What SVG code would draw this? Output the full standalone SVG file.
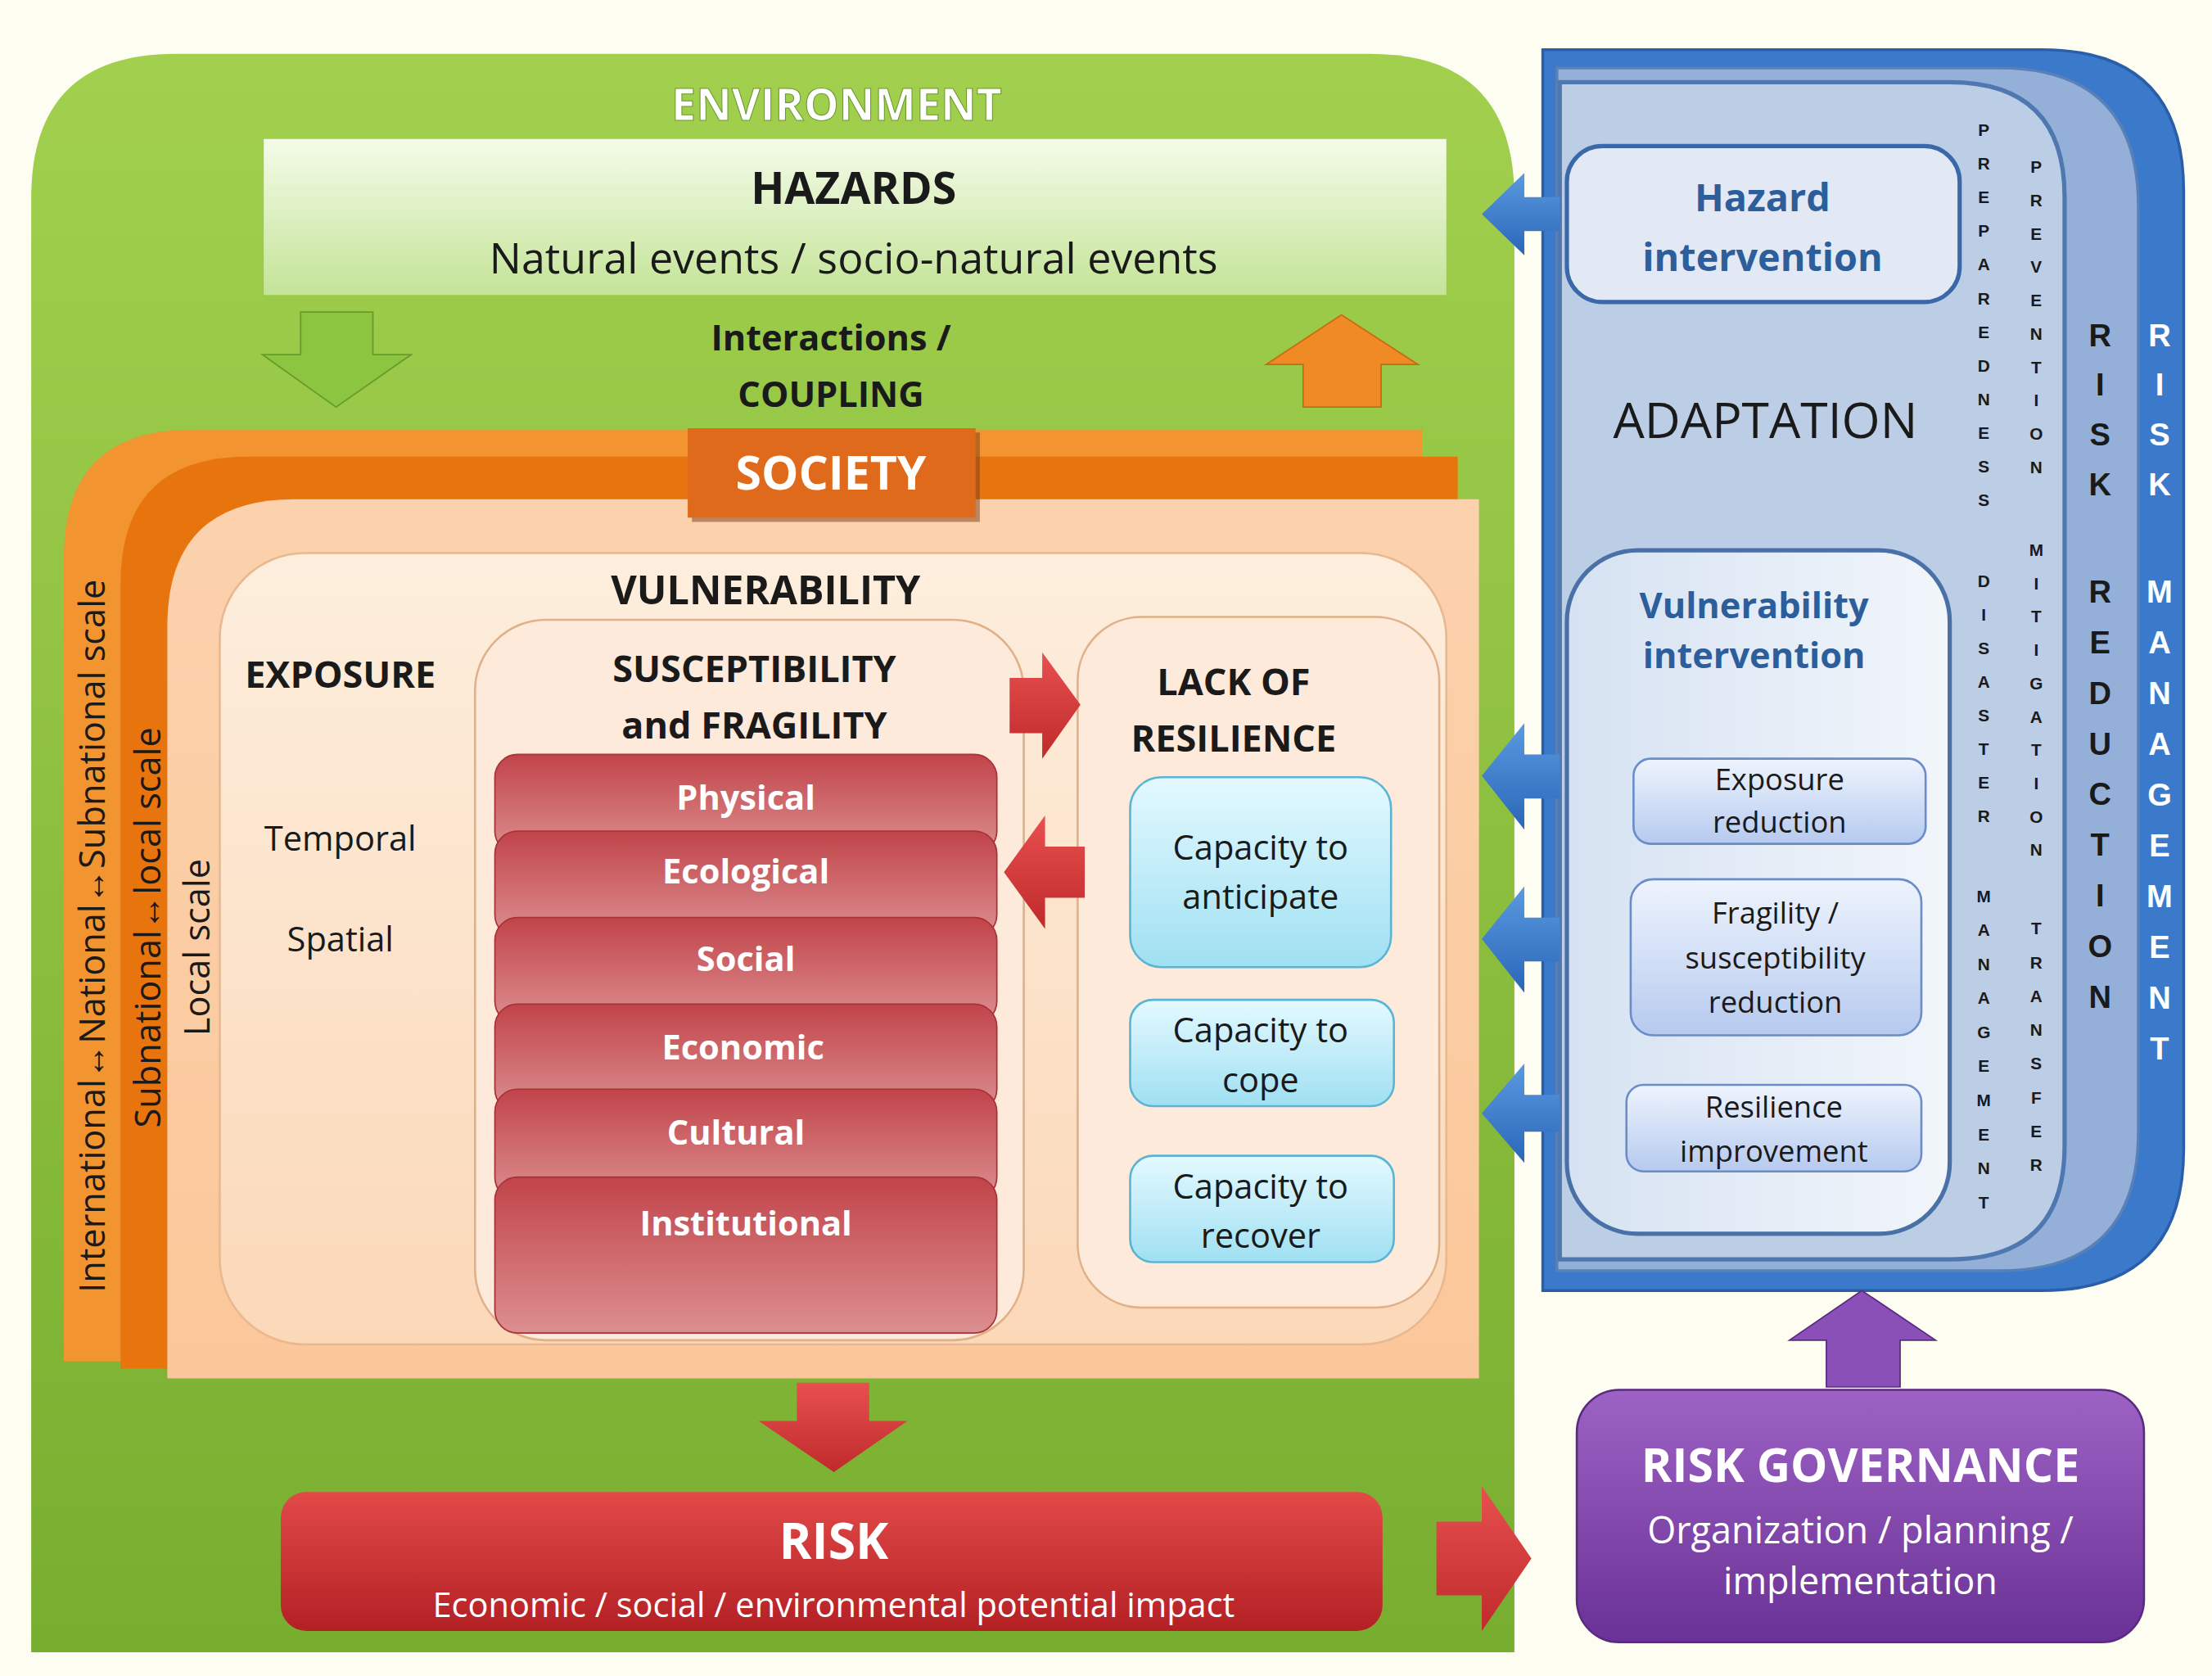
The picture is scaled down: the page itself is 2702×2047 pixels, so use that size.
<svg xmlns="http://www.w3.org/2000/svg" width="2702" height="2047" viewBox="0 0 2702 2047">
<defs>
<linearGradient id="gEnv" x1="0" y1="0" x2="0" y2="1"><stop offset="0" stop-color="#a2d04e"/><stop offset="1" stop-color="#78ae30"/></linearGradient>
<linearGradient id="gHaz" x1="0" y1="0" x2="0" y2="1"><stop offset="0" stop-color="#f4fbe8"/><stop offset="1" stop-color="#c4e498"/></linearGradient>
<linearGradient id="gPeach" x1="0" y1="0" x2="0" y2="1"><stop offset="0" stop-color="#fbd2ad"/><stop offset="1" stop-color="#fbc79a"/></linearGradient>
<linearGradient id="gVul" x1="0" y1="0" x2="0" y2="1"><stop offset="0" stop-color="#fdeedd"/><stop offset="1" stop-color="#fbd8b8"/></linearGradient>
<linearGradient id="gRed" x1="0" y1="0" x2="0" y2="1"><stop offset="0" stop-color="#c1444a"/><stop offset="1" stop-color="#dc8f90"/></linearGradient>
<linearGradient id="gCyan" x1="0" y1="0" x2="0" y2="1"><stop offset="0" stop-color="#e4f9ff"/><stop offset="1" stop-color="#9fe0f2"/></linearGradient>
<linearGradient id="gRisk" x1="0" y1="0" x2="0" y2="1"><stop offset="0" stop-color="#e24a48"/><stop offset="1" stop-color="#b32024"/></linearGradient>
<linearGradient id="gGov" x1="0" y1="0" x2="0" y2="1"><stop offset="0" stop-color="#9d62c4"/><stop offset="1" stop-color="#6a3196"/></linearGradient>
<linearGradient id="gSmall" x1="0" y1="0" x2="0" y2="1"><stop offset="0" stop-color="#eef4fd"/><stop offset="1" stop-color="#b6caef"/></linearGradient>
<linearGradient id="gVI" x1="0" y1="0" x2="1" y2="0"><stop offset="0" stop-color="#d6e2f2"/><stop offset="1" stop-color="#f2f6fb"/></linearGradient>
<linearGradient id="gBlueArr" x1="0" y1="0" x2="0" y2="1"><stop offset="0" stop-color="#5a9ae0"/><stop offset="1" stop-color="#2a66b8"/></linearGradient>
<linearGradient id="gRedArr" x1="0" y1="0" x2="0" y2="1"><stop offset="0" stop-color="#e85050"/><stop offset="1" stop-color="#c02a2a"/></linearGradient>
</defs>
<style>
text{font-family:"Open Sans","Liberation Sans",sans-serif;text-anchor:middle}
.b{font-weight:bold}
.w{fill:#ffffff}
.k{fill:#1a1a1a}
.bl{fill:#2d5e9c;font-weight:bold}
.col{font-family:"Liberation Sans",sans-serif;font-weight:bold;font-size:12px;fill:#1a1a1a}
.band{font-family:"Liberation Sans",sans-serif;font-weight:bold;font-size:22px}
.lbl{fill:#ffffff;font-weight:bold;font-size:24px}
</style>
<rect width="2702" height="2047" fill="#fdfdf2"/>
<g transform="scale(1.7321)">
<g id="environment">
<path d="M22,1165 V140 Q22,38 124,38 H966 Q1068,38 1068,140 V1165 Z" fill="url(#gEnv)"/>
<text x="590" y="85" class="b w" font-size="31" stroke="#6a9a2a" stroke-width="0.6">ENVIRONMENT</text>
</g>
<g id="hazards">
<rect x="186" y="98" width="834" height="110" fill="url(#gHaz)"/>
<text x="602" y="144" class="b k" font-size="31">HAZARDS</text>
<text x="602" y="193" class="k" font-size="30">Natural events / socio-natural events</text>
</g>
<g id="coupling">
<text x="586" y="247" class="b k" font-size="25">Interactions /</text>
<text x="586" y="287" class="b k" font-size="25">COUPLING</text>
</g>
<g id="society">
<path d="M45,960 V393 Q45,303 135,303 H1003 V960 Z" fill="#f29430"/>
<path d="M85,965 V412 Q85,322 175,322 H1028 V965 Z" fill="#e8740e"/>
<path d="M118,972 V442 Q118,352 208,352 H1043 V972 Z" fill="url(#gPeach)"/>
<rect x="488" y="305" width="203" height="63" fill="#7a3a10" opacity="0.5"/>
<rect x="485" y="302" width="203" height="63" fill="#e06a1c"/>
<text x="586" y="345" class="b w" font-size="33">SOCIETY</text>
<text transform="translate(74,660) rotate(-90)" class="k" font-size="25">International↔National↔Subnational scale</text>
<text transform="translate(113,654) rotate(-90)" class="k" font-size="25">Subnational↔local scale</text>
<text transform="translate(148,668) rotate(-90)" class="k" font-size="25">Local scale</text>
</g>
<g id="vulnerability">
<rect x="155" y="390" width="865" height="558" rx="60" fill="url(#gVul)" stroke="#e8b890" stroke-width="1.5"/>
<text x="540" y="426" class="b k" font-size="28">VULNERABILITY</text>
</g>
<g id="exposure">
<text x="240" y="485" class="b k" font-size="26">EXPOSURE</text>
<text x="240" y="600" class="k" font-size="24">Temporal</text>
<text x="240" y="671" class="k" font-size="24">Spatial</text>
</g>
<g id="susceptibility">
<rect x="335" y="437" width="387" height="508" rx="50" fill="#fdeadb" stroke="#e0b088" stroke-width="1.5"/>
<text x="532" y="481" class="b k" font-size="26">SUSCEPTIBILITY</text>
<text x="532" y="521" class="b k" font-size="26">and FRAGILITY</text>
<rect x="349" y="532" width="354" height="70" rx="16" fill="url(#gRed)" stroke="#a83238"/>
<rect x="349" y="586" width="354" height="75" rx="16" fill="url(#gRed)" stroke="#a83238"/>
<rect x="349" y="647" width="354" height="75" rx="16" fill="url(#gRed)" stroke="#a83238"/>
<rect x="349" y="708" width="354" height="76" rx="16" fill="url(#gRed)" stroke="#a83238"/>
<rect x="349" y="768" width="354" height="78" rx="16" fill="url(#gRed)" stroke="#a83238"/>
<rect x="349" y="830" width="354" height="110" rx="16" fill="url(#gRed)" stroke="#a83238"/>
<text x="526" y="571" class="lbl">Physical</text>
<text x="526" y="623" class="lbl">Ecological</text>
<text x="526" y="685" class="lbl">Social</text>
<text x="524" y="747" class="lbl">Economic</text>
<text x="519" y="807" class="lbl">Cultural</text>
<text x="526" y="871" class="lbl">Institutional</text>
</g>
<g id="resilience">
<rect x="760" y="435" width="255" height="487" rx="45" fill="#fdeadb" stroke="#e0b088" stroke-width="1.5"/>
<text x="870" y="490" class="b k" font-size="26">LACK OF</text>
<text x="870" y="530" class="b k" font-size="26">RESILIENCE</text>
<rect x="797" y="548" width="184" height="134" rx="22" fill="url(#gCyan)" stroke="#5ab4d4" stroke-width="1.5"/>
<text x="889" y="606" class="k" font-size="24">Capacity to</text>
<text x="889" y="641" class="k" font-size="24">anticipate</text>
<rect x="797" y="705" width="186" height="75" rx="16" fill="url(#gCyan)" stroke="#5ab4d4" stroke-width="1.5"/>
<text x="889" y="735" class="k" font-size="24">Capacity to</text>
<text x="889" y="770" class="k" font-size="24">cope</text>
<rect x="797" y="815" width="186" height="75" rx="16" fill="url(#gCyan)" stroke="#5ab4d4" stroke-width="1.5"/>
<text x="889" y="845" class="k" font-size="24">Capacity to</text>
<text x="889" y="880" class="k" font-size="24">recover</text>
</g>
<g id="risk">
<rect x="198" y="1052" width="777" height="98" rx="18" fill="url(#gRisk)"/>
<text x="588" y="1099" class="b w" font-size="35">RISK</text>
<text x="588" y="1140" class="w" font-size="24">Economic / social / environmental potential impact</text>
</g>
<g id="governance">
<rect x="1112" y="980" width="400" height="178" rx="30" fill="url(#gGov)" stroke="#5a2a80" stroke-width="1.5"/>
<text x="1312" y="1045" class="b w" font-size="33">RISK GOVERNANCE</text>
<text x="1312" y="1088" class="w" font-size="26">Organization / planning /</text>
<text x="1312" y="1124" class="w" font-size="26">implementation</text>
</g>
<g id="risk-management">
<path d="M1088,35 H1440 Q1540,35 1540,135 V810 Q1540,910 1440,910 H1088 Z" fill="#3b7acb" stroke="#2a5ea8" stroke-width="2"/>
<path d="M1098,48 H1410 Q1508,48 1508,146 V798 Q1508,896 1410,896 H1098 Z" fill="#94b0d8" stroke="#5a80b8" stroke-width="2"/>
<path d="M1100,58 H1375 Q1456,58 1456,139 V808 Q1456,888 1375,888 H1100 Z" fill="#bccde6" stroke="#5078b0" stroke-width="3"/>
<text x="1245" y="309" class="k" font-size="35">ADAPTATION</text>
</g>
<g id="hazard-intervention">
<rect x="1105" y="103" width="277" height="110" rx="25" fill="#e2e9f4" stroke="#3a68a8" stroke-width="3"/>
<text x="1243" y="149" class="bl" font-size="27">Hazard</text>
<text x="1243" y="191" class="bl" font-size="27">intervention</text>
</g>
<g id="vulnerability-intervention">
<rect x="1105" y="388" width="270" height="482" rx="50" fill="url(#gVI)" stroke="#4a70a8" stroke-width="3"/>
<text x="1237" y="436" class="bl" font-size="25">Vulnerability</text>
<text x="1237" y="471" class="bl" font-size="25">intervention</text>
<rect x="1152" y="535" width="206" height="60" rx="12" fill="url(#gSmall)" stroke="#6a8cc8" stroke-width="1.5"/>
<text x="1255" y="557" class="k" font-size="21">Exposure</text>
<text x="1255" y="587" class="k" font-size="21">reduction</text>
<rect x="1150" y="620" width="205" height="110" rx="16" fill="url(#gSmall)" stroke="#6a8cc8" stroke-width="1.5"/>
<text x="1252" y="651" class="k" font-size="21">Fragility /</text>
<text x="1252" y="683" class="k" font-size="21">susceptibility</text>
<text x="1252" y="714" class="k" font-size="21">reduction</text>
<rect x="1147" y="765" width="208" height="61" rx="12" fill="url(#gSmall)" stroke="#6a8cc8" stroke-width="1.5"/>
<text x="1251" y="788" class="k" font-size="21">Resilience</text>
<text x="1251" y="819" class="k" font-size="21">improvement</text>
</g>
<g id="columns">
<text class="col"><tspan x="1399" y="96">P</tspan><tspan x="1399" dy="23.7">R</tspan><tspan x="1399" dy="23.7">E</tspan><tspan x="1399" dy="23.7">P</tspan><tspan x="1399" dy="23.7">A</tspan><tspan x="1399" dy="23.7">R</tspan><tspan x="1399" dy="23.7">E</tspan><tspan x="1399" dy="23.7">D</tspan><tspan x="1399" dy="23.7">N</tspan><tspan x="1399" dy="23.7">E</tspan><tspan x="1399" dy="23.7">S</tspan><tspan x="1399" dy="23.7">S</tspan></text>
<text class="col"><tspan x="1399" y="414">D</tspan><tspan x="1399" dy="23.7">I</tspan><tspan x="1399" dy="23.7">S</tspan><tspan x="1399" dy="23.7">A</tspan><tspan x="1399" dy="23.7">S</tspan><tspan x="1399" dy="23.7">T</tspan><tspan x="1399" dy="23.7">E</tspan><tspan x="1399" dy="23.7">R</tspan></text>
<text class="col"><tspan x="1399" y="636">M</tspan><tspan x="1399" dy="24">A</tspan><tspan x="1399" dy="24">N</tspan><tspan x="1399" dy="24">A</tspan><tspan x="1399" dy="24">G</tspan><tspan x="1399" dy="24">E</tspan><tspan x="1399" dy="24">M</tspan><tspan x="1399" dy="24">E</tspan><tspan x="1399" dy="24">N</tspan><tspan x="1399" dy="24">T</tspan></text>
<text class="col"><tspan x="1436" y="122">P</tspan><tspan x="1436" dy="23.5">R</tspan><tspan x="1436" dy="23.5">E</tspan><tspan x="1436" dy="23.5">V</tspan><tspan x="1436" dy="23.5">E</tspan><tspan x="1436" dy="23.5">N</tspan><tspan x="1436" dy="23.5">T</tspan><tspan x="1436" dy="23.5">I</tspan><tspan x="1436" dy="23.5">O</tspan><tspan x="1436" dy="23.5">N</tspan></text>
<text class="col"><tspan x="1436" y="392">M</tspan><tspan x="1436" dy="23.5">I</tspan><tspan x="1436" dy="23.5">T</tspan><tspan x="1436" dy="23.5">I</tspan><tspan x="1436" dy="23.5">G</tspan><tspan x="1436" dy="23.5">A</tspan><tspan x="1436" dy="23.5">T</tspan><tspan x="1436" dy="23.5">I</tspan><tspan x="1436" dy="23.5">O</tspan><tspan x="1436" dy="23.5">N</tspan></text>
<text class="col"><tspan x="1436" y="659">T</tspan><tspan x="1436" dy="23.8">R</tspan><tspan x="1436" dy="23.8">A</tspan><tspan x="1436" dy="23.8">N</tspan><tspan x="1436" dy="23.8">S</tspan><tspan x="1436" dy="23.8">F</tspan><tspan x="1436" dy="23.8">E</tspan><tspan x="1436" dy="23.8">R</tspan></text>
<text class="band" fill="#1a1a1a"><tspan x="1481" y="244">R</tspan><tspan x="1481" dy="35">I</tspan><tspan x="1481" dy="35">S</tspan><tspan x="1481" dy="35">K</tspan><tspan x="1481" y="425">R</tspan><tspan x="1481" dy="35.7">E</tspan><tspan x="1481" dy="35.7">D</tspan><tspan x="1481" dy="35.7">U</tspan><tspan x="1481" dy="35.7">C</tspan><tspan x="1481" dy="35.7">T</tspan><tspan x="1481" dy="35.7">I</tspan><tspan x="1481" dy="35.7">O</tspan><tspan x="1481" dy="35.7">N</tspan></text>
<text class="band" fill="#ffffff"><tspan x="1523" y="244">R</tspan><tspan x="1523" dy="35">I</tspan><tspan x="1523" dy="35">S</tspan><tspan x="1523" dy="35">K</tspan><tspan x="1523" y="425">M</tspan><tspan x="1523" dy="35.8">A</tspan><tspan x="1523" dy="35.8">N</tspan><tspan x="1523" dy="35.8">A</tspan><tspan x="1523" dy="35.8">G</tspan><tspan x="1523" dy="35.8">E</tspan><tspan x="1523" dy="35.8">M</tspan><tspan x="1523" dy="35.8">E</tspan><tspan x="1523" dy="35.8">N</tspan><tspan x="1523" dy="35.8">T</tspan></text>
</g>
<g id="connectors">
<path d="M212,220 H263 V250 H290 L237,287 L185,250 H212 Z" fill="#8cc640" stroke="#6a9a2a"/>
<path d="M919,287 H974 V257 H1000 L946,222 L893,257 H919 Z" fill="#f08a24" stroke="#c86a10"/>
<path d="M712,478 H735 V460 L762,497 L735,535 V517 H712 Z" fill="url(#gRedArr)"/>
<path d="M765,597 H737 V575 L708,615 L737,655 V633 H765 Z" fill="url(#gRedArr)"/>
<path d="M562,975 H613 V1002 H640 L588,1038 L535,1002 H562 Z" fill="url(#gRedArr)"/>
<path d="M1013,1073 H1045 V1048 L1080,1099 L1045,1150 V1125 H1013 Z" fill="url(#gRedArr)"/>
<path d="M1288,978 H1340 V945 H1365 L1313,910 L1262,945 H1288 Z" fill="#8a50b8" stroke="#5a2a80"/>
<path d="M1100,139 H1075 V122 L1045,151 L1075,180 V163 H1100 Z" fill="url(#gBlueArr)"/>
<path d="M1100,532 H1075 V510 L1045,547 L1075,585 V563 H1100 Z" fill="url(#gBlueArr)"/>
<path d="M1100,647 H1075 V625 L1045,662 L1075,700 V678 H1100 Z" fill="url(#gBlueArr)"/>
<path d="M1100,772 H1075 V750 L1045,785 L1075,820 V798 H1100 Z" fill="url(#gBlueArr)"/>
</g>
</g>
</svg>
